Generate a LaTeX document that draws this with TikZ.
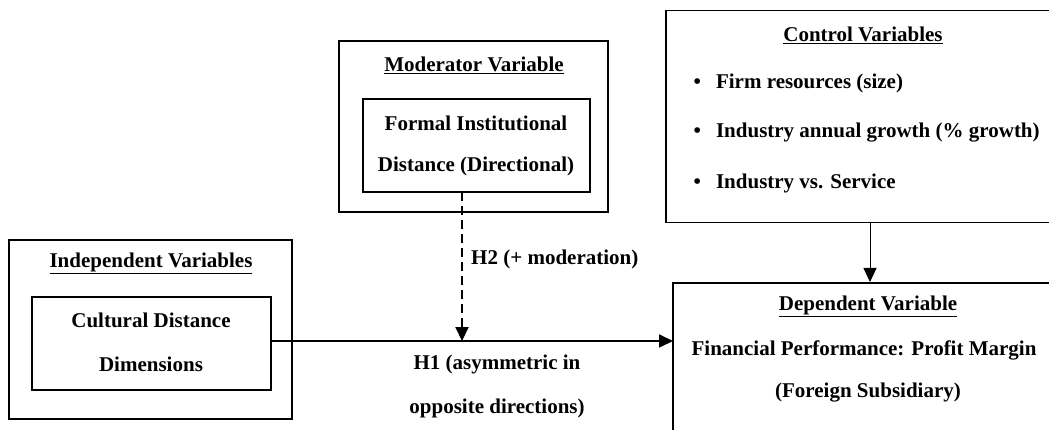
\documentclass[tikz,border=0pt]{standalone}
\usepackage{fontspec}
\setmainfont{Liberation Serif}
\usetikzlibrary{arrows.meta}
\begin{document}
\begin{tikzpicture}[x=1pt,y=-1pt,
  outerbox/.style={draw, line width=1.8pt, rectangle, inner sep=0pt, outer sep=0pt},
  innerbox/.style={draw, line width=1.6pt, rectangle, inner sep=0pt, outer sep=0pt},
  lbl/.style={font=\fontsize{21}{24}\selectfont\bfseries, inner sep=0pt, anchor=center},
  lbll/.style={lbl, anchor=west},
  tip/.style={-{Triangle[length=14pt,width=13pt]}}]
\useasboundingbox (0,0) rectangle (1049,430);
\clip (0,0) rectangle (1049,430);
% boxes
\node[outerbox, minimum width=283pt, minimum height=179pt] (indep) at (150.5,329.5) {};
\node[innerbox, minimum width=239pt, minimum height=93pt] (cult) at (151.5,343.5) {};
\node[outerbox, minimum width=269pt, minimum height=171pt] (modbox) at (473.5,126.5) {};
\node[innerbox, minimum width=227pt, minimum height=93pt] (formal) at (476.5,145.5) {};
\node[outerbox, minimum width=400pt, minimum height=212pt] (ctrl) at (866,116.5) {};
\node[outerbox, minimum width=400pt, minimum height=170pt] (dep) at (873,368) {};
% texts
\node[lbl] (indeptitle) at (151,263) {\underline{Independent Variables}};
\node[lbl] (cult1) at (151,320) {Cultural Distance};
\node[lbl] (cult2) at (151,364) {Dimensions};
\node[lbl] (modtitle) at (474,65) {\underline{Moderator Variable}};
\node[lbl] (formal1) at (476,123) {Formal Institutional};
\node[lbl] (formal2) at (476,166) {Distance (Directional)};
\node[lbl] (ctrltitle) at (863,35) {\underline{Control Variables}};
\node[lbll] (c1) at (693.5,83) {•\hspace{15pt}Firm resources (size)};
\node[lbll] (c2) at (693.5,133) {•\hspace{15pt}Industry annual growth (\% growth)};
\node[lbll] (c3) at (693.5,183) {•\hspace{15pt}Industry vs. Service};
\node[lbl] (deptitle) at (868,306) {\underline{Dependent Variable}};
\node[lbl] (dep1) at (864,350) {Financial Performance: Profit Margin};
\node[lbl] (dep2) at (868,393) {(Foreign Subsidiary)};
\node[lbll] (h2) at (471,259) {H2 (+ moderation)};
\node[lbl] (h1a) at (497,364) {H1 (asymmetric in};
\node[lbl] (h1b) at (497,408) {opposite directions)};
% connectors
\coordinate (meet) at (462,341);
\draw[tip, line width=1.8pt] (cult.east |- meet) -- (dep.west |- meet);
\draw[tip, line width=2pt, dash pattern=on 9pt off 5pt] (formal.south -| meet) -- (meet);
\draw[tip, line width=1pt] (870,222.5) -- (870,282);
\end{tikzpicture}
\end{document}
